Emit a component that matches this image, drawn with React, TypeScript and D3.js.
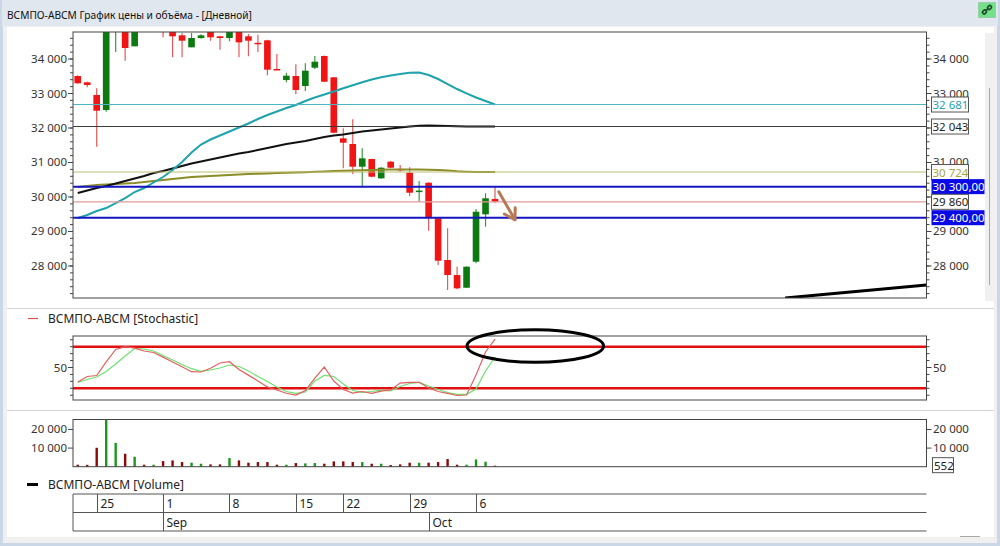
import React from "react";
import * as d3 from "d3";

// ---------- DATA ----------
const dates = [
  "2025-08-23", "2025-08-24", "2025-08-25", "2025-08-26", "2025-08-27", "2025-08-28", "2025-08-29", "2025-08-30", "2025-08-31",
  "2025-09-01", "2025-09-02", "2025-09-03", "2025-09-04", "2025-09-05", "2025-09-06", "2025-09-07", "2025-09-08", "2025-09-09",
  "2025-09-10", "2025-09-11", "2025-09-12", "2025-09-13", "2025-09-14", "2025-09-15", "2025-09-16", "2025-09-17", "2025-09-18",
  "2025-09-19", "2025-09-22", "2025-09-23", "2025-09-24", "2025-09-25", "2025-09-26", "2025-09-27", "2025-09-28", "2025-09-29",
  "2025-09-30", "2025-10-01", "2025-10-02", "2025-10-03", "2025-10-04", "2025-10-05", "2025-10-06", "2025-10-07", "2025-10-08",
];
const opens = [33507, 33325, 32956, 32521, 34850, 34950, 34368, 35100, 34900, 34950, 34850, 34687, 34339, 34609, 34800, 34658, 34609, 34820, 34658, 34470, 34542, 33710, 33391, 33507, 33217, 33748, 34087, 33469, 31701, 31536, 30878, 31101, 30541, 31023, 30815, 30704, 30160, 30414, 29382, 28173, 27738, 27370, 28124, 29498, 29941];
const highs = [33530, 33340, 33150, 35000, 35200, 35050, 35100, 35150, 35050, 35000, 34900, 34754, 34754, 34720, 34850, 34670, 34850, 34850, 34725, 34704, 34560, 34145, 33603, 33846, 33875, 34087, 34100, 33480, 31991, 32252, 31411, 31110, 30860, 31040, 30927, 30860, 30463, 30430, 29390, 29092, 27979, 27990, 29651, 30107, 30298];
const lows = [33280, 33180, 31460, 32472, 34200, 33951, 34368, 34900, 34850, 34630, 34049, 34049, 34339, 34590, 34531, 34270, 34513, 34049, 34078, 34203, 33527, 33690, 33325, 32977, 33072, 33710, 33330, 31850, 30831, 30666, 30318, 30570, 30530, 30840, 30733, 30028, 29863, 29022, 28028, 27303, 27323, 27360, 28077, 29138, 29830];
const closes = [33296, 33246, 32501, 34900, 35100, 34319, 35000, 35000, 35000, 34850, 34658, 34531, 34609, 34687, 34629, 34609, 34820, 34484, 34531, 34440, 33690, 33690, 33516, 33101, 33661, 33922, 33342, 31863, 31574, 30878, 31121, 30588, 30849, 30849, 30790, 30124, 30185, 29411, 28153, 27738, 27352, 27979, 29573, 29962, 29860];
const volumes = [1070, 1000, 10160, 25300, 12800, 6950, 5350, 1070, 1070, 3030, 3390, 2500, 2140, 1600, 1250, 1250, 4630, 3390, 2140, 2500, 2500, 1070, 1070, 1960, 1780, 1960, 1600, 2850, 2850, 2500, 2500, 1600, 1600, 900, 1250, 2140, 2140, 2140, 2500, 4100, 1070, 1070, 3920, 2670, 552];
const maTeal = [29391, 29478, 29594, 29680, 29825, 29970, 30144, 30260, 30420, 30579, 30782, 31014, 31289, 31521, 31666, 31782, 31898, 32014, 32130, 32261, 32377, 32478, 32580, 32666, 32782, 32884, 32971, 33058, 33151, 33238, 33325, 33406, 33469, 33522, 33565, 33600, 33609, 33536, 33420, 33275, 33130, 33006, 32884, 32782, 32681];
const maBlack = [30115, 30188, 30260, 30318, 30391, 30463, 30536, 30608, 30695, 30753, 30826, 30898, 30971, 31029, 31087, 31144, 31202, 31260, 31304, 31362, 31420, 31478, 31536, 31579, 31623, 31681, 31739, 31782, 31811, 31855, 31898, 31927, 31956, 31985, 32014, 32043, 32063, 32072, 32066, 32055, 32048, 32045, 32043, 32043, 32043];
const maOlive = [30289, 30318, 30347, 30362, 30376, 30391, 30405, 30434, 30463, 30492, 30521, 30550, 30579, 30594, 30608, 30623, 30637, 30652, 30666, 30675, 30684, 30695, 30701, 30707, 30718, 30730, 30742, 30753, 30762, 30770, 30776, 30782, 30788, 30797, 30800, 30800, 30797, 30791, 30782, 30768, 30747, 30733, 30724, 30726, 30724];
const stochK = [29.1, 37, 38.5, 58, 76, 80, 78, 73.8, 71.6, 65, 58, 51, 44, 43.5, 49, 56.5, 58.4, 47, 39, 30.5, 22, 17.5, 12.8, 10.3, 16.8, 34.8, 50.7, 30.5, 18.3, 13.2, 15.4, 12.8, 16, 17.5, 27.6, 28.6, 28.6, 20.4, 15.4, 12.8, 9.6, 10.3, 39.2, 72.4, 91];
const stochD = [28.4, 32.7, 36.3, 44.2, 55, 66.6, 77.4, 76.7, 73.8, 67.3, 60.8, 54.3, 48.3, 44.5, 46.4, 49.3, 53.6, 51.4, 45, 37, 29.8, 21.9, 15.4, 12.8, 14.7, 30.5, 38.5, 37, 26.2, 16.8, 14.2, 15.4, 17.5, 16.1, 22.6, 26.9, 28.4, 23.3, 18.3, 13.9, 11.3, 11.3, 19, 45, 65.1];
const levelValues = [32681, 32043, 30724, 30300, 29860, 29400];
const stochLevels = [80, 20];
const priceTicks = [28000, 29000, 30000, 31000, 32000, 33000, 34000];
const stochTicks = [50];
const volumeTicks = [10000, 20000];
const trendLine = [[74.6, 27072], [89.5, 27449]];
const arrowPts = [[44.4, 30150], [46.1, 29340]];
const ellipseCenter = [48.25, 81];
const ellipseHalf = [7.2, 23.5];
const title = "ВСМПО-АВСМ График цены и объёма - [Дневной]";
const stochLegend = "ВСМПО-АВСМ [Stochastic]";
const volLegend = "ВСМПО-АВСМ [Volume]";

// ---------- STYLES ----------
const levelStyles = [
  { stroke: "#4db6c4", sw: 1, text: "#2aa0b0", fill: "#fff", border: "#555", dec: false },
  { stroke: "#3a3a3a", sw: 1, text: "#222", fill: "#fff", border: "#555", dec: false },
  { stroke: "#bdbd72", sw: 1, text: "#a6a640", fill: "#fff", border: "#555", dec: false },
  { stroke: "#1414c0", sw: 2, text: "#fff", fill: "#0a0ae6", border: "none", dec: true },
  { stroke: "#e39a9a", sw: 1.3, text: "#222", fill: "#fff", border: "#555", dec: false },
  { stroke: "#1414c0", sw: 2, text: "#fff", fill: "#0a0ae6", border: "none", dec: true },
];
const FONT = "'Segoe UI', 'Noto Sans', sans-serif";
const NUM = 11.5;
const RED = "#f01414";
const RED_WICK = "#e25a5a";
const GREEN = "#0c7a10";
const GREEN_WICK = "#3c9a3c";

const loc = d3.formatLocale({ decimal: ",", thousands: " ", grouping: [3], currency: ["", ""] });
const fInt = loc.format(",d");
const fDec = loc.format(",.2f");

export default function App() {
  const plotL = 73, plotR = 926.5;
  const mainTop = 32, mainBot = 298;
  const stTop = 336, stBot = 400;
  const volTop = 419.5, volBot = 466.7;

  const x = d3.scaleLinear().domain([-0.5, 89.5]).range([plotL, plotR]);
  const y = d3.scaleLinear().domain([27072, 34783]).range([mainBot, mainTop]);
  const ys = d3.scaleLinear().domain([20, 80]).range([388.3, 346.7]);
  const yv = d3.scaleLinear().domain([0, 25350]).range([volBot, volTop]);

  const step = x(1) - x(0);
  const bodyW = step * 0.7;
  const idx = d3.range(dates.length);

  const lineMain = (arr: number[]) =>
    d3.line<number>().x((_, i) => x(i)).y((v) => y(v))(arr) || "";
  const lineSt = (arr: number[]) =>
    d3.line<number>().x((_, i) => x(i)).y((v) => ys(v))(arr) || "";

  const parse = d3.timeParse("%Y-%m-%d");
  const dObjs = dates.map((s) => parse(s) as Date);
  const weekTicks = idx.filter((i) => dObjs[i].getDay() === 1);
  const monthTicks = idx.filter((i) => dObjs[i].getDate() === 1);
  const fMonth = d3.timeFormat("%b");

  const minorPrice = d3.range(27200, 34783, 200);
  const minorSt = d3.range(10, 91, 10);

  // arrow
  const ax1 = x(arrowPts[0][0]), ay1 = y(arrowPts[0][1]);
  const ax2 = x(arrowPts[1][0]), ay2 = y(arrowPts[1][1]);
  const ang = Math.atan2(ay2 - ay1, ax2 - ax1);
  const hl = 12;
  const h1 = [ax2 - hl * Math.cos(ang - 0.55), ay2 - hl * Math.sin(ang - 0.55)];
  const h2 = [ax2 - hl * Math.cos(ang + 0.55), ay2 - hl * Math.sin(ang + 0.55)];

  const ecx = x(ellipseCenter[0]);
  const ecy = ys(ellipseCenter[1]);
  const erx = x(ellipseCenter[0] + ellipseHalf[0]) - ecx;
  const ery = ys(ellipseCenter[1] - ellipseHalf[1]) - ecy;

  const row1Top = 494, row1Bot = 512.5, row2Bot = 531;

  return (
    <svg width={1000} height={546} style={{ position: "absolute", left: 0, top: 0, display: "block" }} fontFamily={FONT}>
      <defs>
        <clipPath id="mainClip">
          <rect x={plotL} y={mainTop} width={plotR - plotL} height={mainBot - mainTop} />
        </clipPath>
        <clipPath id="stClip">
          <rect x={plotL} y={stTop} width={plotR - plotL} height={stBot - stTop} />
        </clipPath>
      </defs>

      {/* window chrome */}
      <rect x={0} y={0} width={1000} height={546} fill="#c9d7e6" />
      <rect x={2} y={0} width={996} height={26} fill="#e1e7ee" />
      <rect x={3} y={26} width={994} height={517} fill="#f0f0f0" />
      <rect x={7} y={27} width={987} height={510} fill="#ffffff" />
      <rect x={985} y={33} width={10} height={268} fill="#f0f0f0" />
      <line x1={989.5} x2={989.5} y1={88} y2={285} stroke="#a8a8a8" strokeWidth={1} />
      <line x1={960} x2={980} y1={536.5} y2={536.5} stroke="#a8a8a8" strokeWidth={1} />
      <text x={7} y={18.5} fontSize={10.2} fill="#111">{title}</text>
      <rect x={978.5} y={2.5} width={17} height={15} fill="#74e08a" stroke="#9acfa6" />
      <g stroke="#1d4a2a" strokeWidth={1.6} fill="none">
        <ellipse cx={984.5} cy={12} rx={2.2} ry={1.6} transform="rotate(-45 984.5 12)" />
        <ellipse cx={989.5} cy={7.5} rx={2.2} ry={1.6} transform="rotate(-45 989.5 7.5)" />
        <line x1={985.5} y1={11} x2={988.5} y2={8.5} />
      </g>

      {/* panel separators */}
      <line x1={7} x2={994} y1={308.5} y2={308.5} stroke="#d4d4d4" />
      <line x1={7} x2={994} y1={410.5} y2={410.5} stroke="#d4d4d4" />

      {/* ---------- MAIN PRICE PANEL ---------- */}
      <g clipPath="url(#mainClip)">
        {idx.map((i) => {
          const up = closes[i] >= opens[i];
          const top = y(Math.max(opens[i], closes[i]));
          const bot = y(Math.min(opens[i], closes[i]));
          return (
            <g key={"c" + i}>
              <line x1={x(i)} x2={x(i)} y1={y(highs[i])} y2={y(lows[i])} stroke={up ? GREEN_WICK : RED_WICK} strokeWidth={1.2} />
              <rect x={x(i) - bodyW / 2} y={top} width={bodyW} height={Math.max(1.5, bot - top)} fill={up ? GREEN : RED} />
            </g>
          );
        })}
        <path d={lineMain(maOlive)} fill="none" stroke="#8c8c28" strokeWidth={2} />
        <path d={lineMain(maBlack)} fill="none" stroke="#111" strokeWidth={2} />
        <path d={lineMain(maTeal)} fill="none" stroke="#1ea3ac" strokeWidth={2} />
        {levelValues.map((v, k) => (
          <line key={"l" + k} x1={plotL} x2={plotR} y1={y(v)} y2={y(v)} stroke={levelStyles[k].stroke} strokeWidth={levelStyles[k].sw} />
        ))}
        <line x1={x(trendLine[0][0])} y1={y(trendLine[0][1])} x2={x(trendLine[1][0])} y2={y(trendLine[1][1])} stroke="#000" strokeWidth={3} />
        <g stroke="#b57a55" strokeWidth={3} strokeLinecap="round" fill="none">
          <line x1={ax1} y1={ay1} x2={ax2} y2={ay2} />
          <polyline points={`${h1[0]},${h1[1]} ${ax2},${ay2} ${h2[0]},${h2[1]}`} strokeLinejoin="round" />
        </g>
      </g>
      <rect x={plotL} y={mainTop} width={plotR - plotL} height={mainBot - mainTop} fill="none" stroke="#444" strokeWidth={1} />

      {/* price axes */}
      <g stroke="#444" strokeWidth={1}>
        {minorPrice.map((v) => (
          <g key={"mp" + v}>
            <line x1={plotL - 3} x2={plotL} y1={y(v)} y2={y(v)} />
            <line x1={plotR} x2={plotR + 3} y1={y(v)} y2={y(v)} />
          </g>
        ))}
        {priceTicks.map((v) => (
          <g key={"tp" + v}>
            <line x1={plotL - 5} x2={plotL} y1={y(v)} y2={y(v)} />
            <line x1={plotR} x2={plotR + 5} y1={y(v)} y2={y(v)} />
          </g>
        ))}
      </g>
      {priceTicks.map((v) => (
        <g key={"tl" + v} fontSize={NUM} fill="#333">
          <text x={67} y={y(v) + 4} textAnchor="end">{fInt(v)}</text>
          <text x={933} y={y(v) + 4}>{fInt(v)}</text>
        </g>
      ))}
      {levelValues.map((v, k) => {
        const s = levelStyles[k];
        const w = s.dec ? 53 : 37;
        return (
          <g key={"lb" + k}>
            <rect x={931.5} y={y(v) - 7.5} width={w} height={15} fill={s.fill} stroke={s.border === "none" ? "none" : s.border} strokeWidth={1} />
            <text x={932.5} y={y(v) + 4.5} fontSize={NUM} fill={s.text}>{s.dec ? fDec(v) : fInt(v)}</text>
          </g>
        );
      })}

      {/* ---------- STOCHASTIC PANEL ---------- */}
      <line x1={28} x2={38} y1={318.5} y2={318.5} stroke="#e05050" strokeWidth={1.2} />
      <text x={48} y={322.5} fontSize={12} fill="#222">{stochLegend}</text>
      <g clipPath="url(#stClip)">
        {stochLevels.map((v) => (
          <line key={"sl" + v} x1={plotL} x2={plotR} y1={ys(v)} y2={ys(v)} stroke="#e01010" strokeWidth={2.5} />
        ))}
        <path d={lineSt(stochD)} fill="none" stroke="#6ee06e" strokeWidth={1.2} />
        <path d={lineSt(stochK)} fill="none" stroke="#e06060" strokeWidth={1.2} />
      </g>
      <rect x={plotL} y={stTop} width={plotR - plotL} height={stBot - stTop} fill="none" stroke="#444" strokeWidth={1} />
      <g stroke="#444">
        {minorSt.map((v) => (
          <g key={"ms" + v}>
            <line x1={plotL - 3} x2={plotL} y1={ys(v)} y2={ys(v)} />
            <line x1={plotR} x2={plotR + 3} y1={ys(v)} y2={ys(v)} />
          </g>
        ))}
        {stochTicks.map((v) => (
          <g key={"ts" + v}>
            <line x1={plotL - 5} x2={plotL} y1={ys(v)} y2={ys(v)} />
            <line x1={plotR} x2={plotR + 5} y1={ys(v)} y2={ys(v)} />
          </g>
        ))}
      </g>
      {stochTicks.map((v) => (
        <g key={"stl" + v} fontSize={NUM} fill="#333">
          <text x={67} y={ys(v) + 4} textAnchor="end">{v}</text>
          <text x={933} y={ys(v) + 4}>{v}</text>
        </g>
      ))}
      <ellipse cx={ecx} cy={ecy} rx={erx} ry={ery} fill="none" stroke="#000" strokeWidth={3} />

      {/* ---------- VOLUME PANEL ---------- */}
      {idx.map((i) => (
        <rect key={"v" + i} x={x(i) - 1.2} y={yv(volumes[i])} width={2.4} height={volBot - yv(volumes[i])} fill={closes[i] >= opens[i] ? "#1e961e" : "#8a0a0a"} />
      ))}
      <rect x={plotL} y={volTop} width={plotR - plotL} height={volBot - volTop} fill="none" stroke="#444" strokeWidth={1} />
      <g stroke="#444">
        {volumeTicks.map((v) => (
          <g key={"tv" + v}>
            <line x1={plotL - 5} x2={plotL} y1={yv(v)} y2={yv(v)} />
            <line x1={plotR} x2={plotR + 5} y1={yv(v)} y2={yv(v)} />
          </g>
        ))}
      </g>
      {volumeTicks.map((v) => (
        <g key={"tvl" + v} fontSize={NUM} fill="#333">
          <text x={67} y={yv(v) + 4} textAnchor="end">{fInt(v)}</text>
          <text x={933} y={yv(v) + 4}>{fInt(v)}</text>
        </g>
      ))}
      <rect x={932.5} y={yv(volumes[volumes.length - 1]) - 8} width={21} height={15} fill="#fff" stroke="#555" />
      <text x={934} y={yv(volumes[volumes.length - 1]) + 4} fontSize={NUM} fill="#222">{fInt(volumes[volumes.length - 1])}</text>

      <line x1={27} x2={38} y1={484.5} y2={484.5} stroke="#000" strokeWidth={3} />
      <text x={48} y={488.5} fontSize={12} fill="#222">{volLegend}</text>

      {/* ---------- DATE AXIS ---------- */}
      <g stroke="#555" strokeWidth={1} fill="none">
        <line x1={plotL} x2={plotR} y1={row1Top} y2={row1Top} />
        <line x1={plotL} x2={plotR} y1={row1Bot} y2={row1Bot} />
        <line x1={plotL} x2={plotR} y1={row2Bot} y2={row2Bot} />
        <line x1={plotL} x2={plotL} y1={row1Top} y2={row2Bot} />
        {weekTicks.map((i) => (
          <line key={"wt" + i} x1={Math.round(x(i)) + 0.5} x2={Math.round(x(i)) + 0.5} y1={row1Top} y2={row1Bot} />
        ))}
        {monthTicks.map((i) => (
          <line key={"mt" + i} x1={Math.round(x(i)) + 0.5} x2={Math.round(x(i)) + 0.5} y1={row1Bot} y2={row2Bot} />
        ))}
      </g>
      {weekTicks.map((i) => (
        <text key={"wl" + i} x={Math.round(x(i)) + 3.5} y={507.5} fontSize={12} fill="#222">{dObjs[i].getDate()}</text>
      ))}
      {monthTicks.map((i) => (
        <text key={"ml" + i} x={Math.round(x(i)) + 3.5} y={526.5} fontSize={12} fill="#222">{fMonth(dObjs[i])}</text>
      ))}
    </svg>
  );
}
